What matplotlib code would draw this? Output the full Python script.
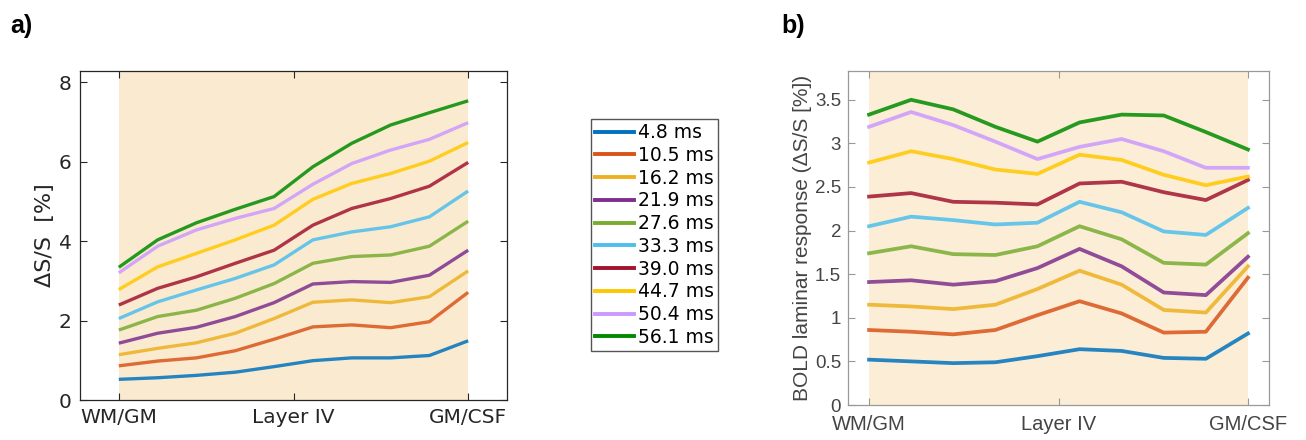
import numpy as np
import matplotlib
matplotlib.use("Agg")
from matplotlib import pyplot as plt

# echo times (legend) and colours
te_labels = ['4.8 ms', '10.5 ms', '16.2 ms', '21.9 ms', '27.6 ms',
             '33.3 ms', '39.0 ms', '44.7 ms', '50.4 ms', '56.1 ms']
colors = ['#0072BD', '#D95319', '#EDB120', '#7E2F8E', '#77AC30',
          '#4DBEEE', '#A2142F', '#FFC800', '#CC99FF', '#008A00']
depth_ticks = ['WM/GM', 'Layer IV', 'GM/CSF']

# a) simulated signal change per depth (10 depths)
a_vals = [
    [0.52, 0.56, 0.62, 0.70, 0.84, 0.99, 1.06, 1.06, 1.12, 1.49],
    [0.86, 0.98, 1.06, 1.24, 1.53, 1.84, 1.89, 1.82, 1.97, 2.71],
    [1.14, 1.30, 1.44, 1.68, 2.05, 2.46, 2.52, 2.45, 2.60, 3.25],
    [1.43, 1.68, 1.83, 2.10, 2.45, 2.92, 2.98, 2.96, 3.14, 3.77],
    [1.76, 2.10, 2.26, 2.56, 2.93, 3.44, 3.61, 3.65, 3.87, 4.50],
    [2.05, 2.47, 2.77, 3.06, 3.40, 4.03, 4.23, 4.36, 4.61, 5.26],
    [2.39, 2.81, 3.10, 3.44, 3.77, 4.40, 4.82, 5.07, 5.38, 5.98],
    [2.78, 3.35, 3.69, 4.03, 4.40, 5.05, 5.45, 5.70, 6.01, 6.48],
    [3.20, 3.87, 4.28, 4.57, 4.82, 5.43, 5.95, 6.29, 6.56, 6.98],
    [3.34, 4.03, 4.46, 4.80, 5.12, 5.87, 6.46, 6.92, 7.23, 7.53],
]

# b) measured BOLD laminar response
b_vals = [
    [0.52, 0.50, 0.48, 0.49, 0.56, 0.64, 0.62, 0.54, 0.53, 0.82],
    [0.86, 0.84, 0.81, 0.86, 1.03, 1.19, 1.05, 0.83, 0.84, 1.46],
    [1.15, 1.13, 1.10, 1.15, 1.33, 1.54, 1.38, 1.09, 1.06, 1.59],
    [1.41, 1.43, 1.38, 1.42, 1.57, 1.79, 1.59, 1.29, 1.26, 1.70],
    [1.74, 1.82, 1.73, 1.72, 1.82, 2.05, 1.90, 1.63, 1.61, 1.97],
    [2.05, 2.16, 2.12, 2.07, 2.09, 2.33, 2.21, 1.99, 1.95, 2.26],
    [2.39, 2.43, 2.33, 2.32, 2.30, 2.54, 2.56, 2.44, 2.35, 2.58],
    [2.78, 2.91, 2.82, 2.70, 2.65, 2.87, 2.81, 2.64, 2.52, 2.62],
    [3.19, 3.36, 3.21, 3.02, 2.82, 2.96, 3.05, 2.91, 2.72, 2.72],
    [3.33, 3.50, 3.39, 3.19, 3.02, 3.24, 3.33, 3.32, 3.13, 2.93],
]

depth = np.arange(10)
W, H = 1306, 440
fig = plt.figure(figsize=(W / 100, H / 100), dpi=100)

# ---- panel a ----
axa = fig.add_axes([80 / W, 1 - 400 / H, 427 / W, 329 / H])
axa.axvspan(0, 9, color='#FAEBD0', zorder=0, lw=0)
for vals, c, lab in zip(a_vals, colors, te_labels):
    axa.plot(depth, vals, color=c, lw=2.4, alpha=0.85, label=lab, solid_capstyle='butt')
axa.set_xlim(-1, 10)
axa.set_ylim(0, 8.28)
axa.set_xticks([0, 4.5, 9])
axa.set_xticklabels(depth_ticks)
axa.set_yticks([0, 2, 4, 6, 8])
axa.tick_params(direction='in', top=True, right=True, labelsize=14.5,
                colors='#262626', length=5, width=0.8, pad=6)
for s in axa.spines.values():
    s.set_color('#262626')
    s.set_linewidth(0.9)
axa.set_ylabel('ΔS/S  [%]', fontsize=16, color='#262626', labelpad=3)

# legend between the panels (legend lines drawn without alpha)
handles = [plt.Line2D([], [], color=c, lw=2.8) for c in colors]
fig.legend(handles, te_labels, loc='upper left', bbox_to_anchor=(591 / W, 1 - 119 / H),
           borderaxespad=0, fontsize=13.5, frameon=True, fancybox=False,
           edgecolor='#555555', handlelength=2.05, handletextpad=0.25,
           labelspacing=0.2, borderpad=0.22, framealpha=1)

# ---- panel b ----
axb = fig.add_axes([848 / W, 1 - 405 / H, 421 / W, 334 / H])
axb.axvspan(0, 9, color='#FCEED6', zorder=0, lw=0)
for vals, c in zip(b_vals, colors):
    axb.plot(depth, vals, color=c, lw=2.7, alpha=0.85)
axb.set_xlim(-0.5, 9.5)
axb.set_ylim(0, 3.83)
axb.set_xticks([0, 4.5, 9])
axb.set_xticklabels(depth_ticks, family='Liberation Sans', fontsize=14.5)
axb.set_yticks([0, 0.5, 1, 1.5, 2, 2.5, 3, 3.5])
axb.set_yticklabels(['0', '0.5', '1', '1.5', '2', '2.5', '3', '3.5'],
                    family='Liberation Sans', fontsize=13.5)
axb.tick_params(direction='in', top=True, right=True,
                labelcolor='#444444', color='#999999', length=5, width=0.8)
axb.tick_params(axis='x', pad=7)
axb.tick_params(axis='y', pad=5)
for s in axb.spines.values():
    s.set_color('#999999')
    s.set_linewidth(0.9)
axb.set_ylabel('BOLD laminar response (ΔS/S [%])', fontsize=15, color='#444444',
               family='Liberation Sans', labelpad=2)

fig.text(10 / W, 1 - 33 / H, 'a)', fontsize=18, fontweight='bold',
         family='Liberation Sans', va='baseline')
fig.text(781 / W, 1 - 33 / H, 'b)', fontsize=18, fontweight='bold',
         family='Liberation Sans', va='baseline')

fig.savefig('out.png', dpi=100)
